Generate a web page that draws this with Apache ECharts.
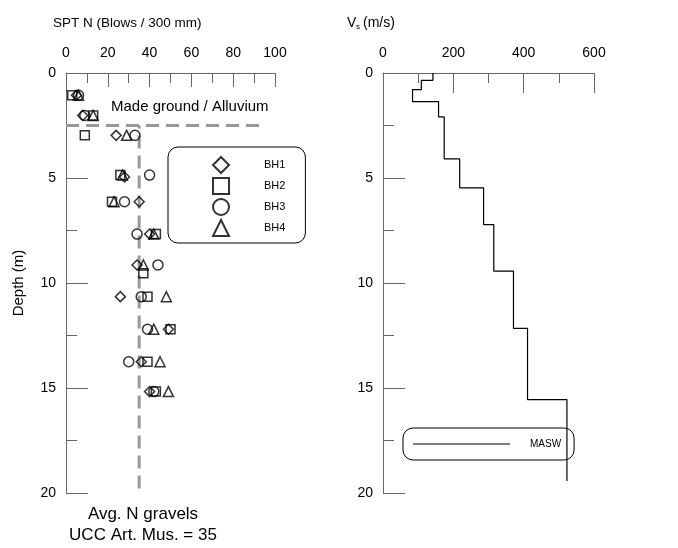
<!DOCTYPE html>
<html>
<head>
<meta charset="utf-8">
<script src="https://cdn.jsdelivr.net/npm/echarts@6/dist/echarts.min.js"></script>
<style>
  html, body { margin: 0; padding: 0; background: #fff; }
  #chart { width: 678px; height: 548px; }
</style>
</head>
<body>
<div id="chart"></div>
<script>
// SPT N values per borehole
const sptDepth = [1.06, 2.02, 2.97, 4.86, 6.13, 7.67, 9.14, 10.65, 12.2, 13.75, 15.17]
const bh1Depth = [1.06, 2.02, 2.97, 4.95, 6.13, 7.67, 9.14, 10.65, 12.2, 13.75, 15.17]
const bh2Depth = [1.06, 2.02, 2.97, 4.86, 6.13, 7.67, 9.54, 10.65, 12.2, 13.75, 15.17]
const bh1N = [5, 8, 24, 28, 35, 40, 34, 26, 49, 36, 40]
const bh2N = [3, 13, 9, 26, 22, 43, 37, 39, 50, 39, 43]
const bh3N = [6, 9, 33, 40, 28, 34, 44, 36, 39, 30, 42]
const bh4N = [6, 13, 29, 27, 23, 42, 37, 48, 42, 45, 49]

// MASW shear wave velocity profile (layer boundaries + Vs per layer)
const layerDepth = [0, 0.35, 0.79, 1.36, 2.09, 4.09, 5.47, 7.22, 9.43, 12.16, 15.55, 19.43]
const vsLayer = [142, 109, 84, 158, 174, 218, 286, 315, 371, 411, 523]

// annotations
const madeGroundDepth = 2.5
const madeGroundEndN = 95
const avgN = 35

const sptTicks = { min: 0, max: 100, interval: 20 }
const vsTicks = { min: 0, max: 600, interval: 200 }
const depthTicks = { min: 0, max: 20, interval: 5 }

const FONT = "'Liberation Sans', Arial, sans-serif"
const AXIS_COLOR = '#666'

const pairs = (xs, ys) => xs.map((x, i) => [x, ys[i]])

const stepData = []
vsLayer.forEach((v, i) => {
  stepData.push([v, layerDepth[i]])
  stepData.push([v, layerDepth[i + 1]])
})

const xAxisBase = (grid, ticks, tickLen, minorLen) => ({
  gridIndex: grid,
  type: 'value',
  position: 'top',
  min: ticks.min,
  max: ticks.max,
  interval: ticks.interval,
  axisLine: { lineStyle: { color: AXIS_COLOR, width: 1 } },
  axisTick: { inside: true, length: tickLen, lineStyle: { color: AXIS_COLOR } },
  minorTick: { show: true, splitNumber: 2, length: minorLen, lineStyle: { color: AXIS_COLOR } },
  axisLabel: { margin: 13, fontSize: 14, color: '#000', fontFamily: FONT },
  splitLine: { show: false },
  minorSplitLine: { show: false }
})

const yAxisBase = (grid, withName) => ({
  gridIndex: grid,
  type: 'value',
  inverse: true,
  min: depthTicks.min,
  max: depthTicks.max,
  interval: depthTicks.interval,
  name: withName ? 'Depth (m)' : '',
  nameLocation: 'middle',
  nameRotate: 90,
  nameGap: 40,
  nameTextStyle: { fontSize: 15, color: '#000', fontFamily: FONT },
  axisLine: { lineStyle: { color: AXIS_COLOR, width: 1 } },
  axisTick: { inside: true, length: 22, lineStyle: { color: AXIS_COLOR } },
  minorTick: { show: true, splitNumber: 2, length: 11, lineStyle: { color: AXIS_COLOR } },
  axisLabel: { margin: 10, fontSize: 14, color: '#000', fontFamily: FONT },
  splitLine: { show: false },
  minorSplitLine: { show: false }
})

const sptSeries = (name, symbol, xs, ys, size) => ({
  name,
  type: 'scatter',
  xAxisIndex: 0,
  yAxisIndex: 0,
  symbol,
  symbolSize: size,
  data: pairs(xs, ys),
  itemStyle: { color: 'rgba(255,255,255,0)', borderColor: '#000', borderWidth: 1.5 },
  z: 5
})

const chart = echarts.init(document.getElementById('chart'))

const option = {
  animation: false,
  textStyle: { fontFamily: FONT },
  grid: [
    { left: 66, top: 73, width: 209, height: 420 },
    { left: 383, top: 73, width: 211, height: 420 }
  ],
  xAxis: [
    xAxisBase(0, sptTicks, 14, 10),
    xAxisBase(1, vsTicks, 20, 10)
  ],
  yAxis: [
    yAxisBase(0, true),
    yAxisBase(1, false)
  ],
  legend: [
    {
      data: ['BH1', 'BH2', 'BH3', 'BH4'],
      orient: 'vertical',
      left: 168,
      top: 147,
      padding: [9, 20, 6, 44],
      itemWidth: 16,
      itemHeight: 16,
      itemGap: 3,
      borderColor: '#000',
      borderWidth: 1,
      borderRadius: 10,
      textStyle: { fontSize: 11, color: '#000', fontFamily: FONT, padding: [0, 0, 0, 30] }
    },
    {
      data: [{ name: 'MASW', icon: 'rect' }],
      left: 403,
      top: 428,
      padding: [11, 13, 11, 10],
      itemWidth: 97,
      itemHeight: 1,
      borderColor: '#000',
      borderWidth: 1,
      borderRadius: 10,
      textStyle: { fontSize: 10, color: '#000', fontFamily: FONT, padding: [0, 0, 0, 15] }
    }
  ],
  series: [
    {
      type: 'line',
      xAxisIndex: 0,
      yAxisIndex: 0,
      data: [[0, madeGroundDepth], [madeGroundEndN, madeGroundDepth]],
      symbol: 'none',
      silent: true,
      lineStyle: { color: '#999', width: 3, type: [13, 7] },
      z: 1
    },
    {
      type: 'line',
      xAxisIndex: 0,
      yAxisIndex: 0,
      data: [[avgN, madeGroundDepth], [avgN, depthTicks.max]],
      symbol: 'none',
      silent: true,
      lineStyle: { color: '#999', width: 3, type: [13, 7], dashOffset: 10 },
      z: 1
    },
    sptSeries('BH1', 'diamond', bh1N, bh1Depth, 10),
    sptSeries('BH2', 'rect', bh2N, bh2Depth, 9),
    sptSeries('BH3', 'circle', bh3N, sptDepth, 10),
    sptSeries('BH4', 'triangle', bh4N, sptDepth, 10),
    {
      name: 'MASW',
      type: 'line',
      xAxisIndex: 1,
      yAxisIndex: 1,
      data: stepData,
      symbol: 'none',
      itemStyle: { color: '#000' },
      lineStyle: { color: '#000', width: 1.2 },
      z: 5
    }
  ],
  graphic: [
    { type: 'text', x: 53, y: 23, style: { text: 'SPT N (Blows / 300 mm)', fontSize: 13.5, fontFamily: FONT, fill: '#000', verticalAlign: 'middle' } },
    { type: 'text', x: 347, y: 23, style: { text: 'V', fontSize: 14, fontFamily: FONT, fill: '#000', verticalAlign: 'middle' } },
    { type: 'text', x: 356, y: 27, style: { text: 's', fontSize: 8, fontFamily: FONT, fill: '#000', verticalAlign: 'middle' } },
    { type: 'text', x: 363, y: 23, style: { text: '(m/s)', fontSize: 14, fontFamily: FONT, fill: '#000', verticalAlign: 'middle' } },
    { type: 'text', x: 111, y: 107, z: 10, style: { text: 'Made ground / Alluvium', fontSize: 15, fontFamily: FONT, fill: '#000', verticalAlign: 'middle' } },
    { type: 'text', x: 143, y: 514, style: { text: 'Avg. N gravels', fontSize: 17, fontFamily: FONT, fill: '#000', align: 'center', verticalAlign: 'middle' } },
    { type: 'text', x: 143, y: 535, style: { text: 'UCC Art. Mus. = 35', fontSize: 17, fontFamily: FONT, fill: '#000', align: 'center', verticalAlign: 'middle' } }
  ]
}

chart.setOption(option)
</script>
</body>
</html>
